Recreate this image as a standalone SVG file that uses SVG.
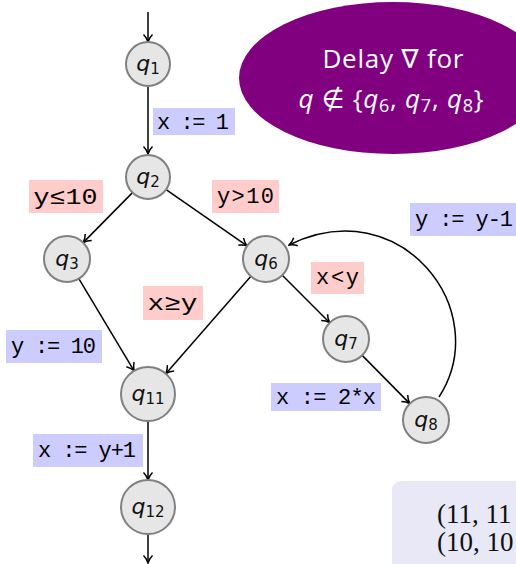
<svg xmlns="http://www.w3.org/2000/svg" width="516" height="564" viewBox="0 0 516 564">
<defs>
<marker id="arr" markerUnits="userSpaceOnUse" viewBox="-9 -6 10 12" markerWidth="10" markerHeight="12" refX="0" refY="0" orient="auto">
<path d="M -7.5 -4.5 C -5 -2, -2 -0.6, 0 0 C -2 0.6, -5 2, -7.5 4.5" fill="none" stroke="#000" stroke-width="1.5"/>
</marker>
</defs>
<style>
.node circle{fill:#e6e6e6;stroke:#808080;stroke-width:2}
.nl{font-family:"DejaVu Sans","Noto Sans",sans-serif;font-size:22px;fill:#111;text-anchor:middle}
.nl .q{font-style:italic}
.nl .s{font-size:15px}
.edge{stroke:#000;stroke-width:1.5;fill:none;marker-end:url(#arr)}
.lb{fill:#ccccff}
.lp{fill:#ffcccc}
.lt{font-family:"Liberation Mono","DejaVu Sans Mono",monospace;font-size:22px;fill:#000;text-anchor:middle}
.et{font-family:"Open Sans","DejaVu Sans",sans-serif;font-size:26px;fill:#fff;text-anchor:middle}
</style>
<rect width="516" height="564" fill="#fff"/>

<g id="note">
<ellipse cx="393" cy="78" rx="154" ry="76" fill="#800080"/>
<text class="et" x="393" y="68" textLength="141" lengthAdjust="spacing">Delay ∇ for</text>
<text class="et" x="391" y="108" textLength="185" lengthAdjust="spacing"><tspan font-style="italic">q</tspan> ∉ {<tspan font-style="italic">q</tspan><tspan font-size="18" dy="4">6</tspan><tspan dy="-4">, </tspan><tspan font-style="italic">q</tspan><tspan font-size="18" dy="4">7</tspan><tspan dy="-4">, </tspan><tspan font-style="italic">q</tspan><tspan font-size="18" dy="4">8</tspan><tspan dy="-4">}</tspan></text>
</g>

<g id="result">
<rect x="392" y="481" width="150" height="100" rx="9" fill="#e8e8f6"/>
<text x="437" y="523" font-family="Liberation Serif,serif" font-size="27" fill="#111">(11, 11</text>
<text x="437" y="551" font-family="Liberation Serif,serif" font-size="27" fill="#111">(10, 10</text>
</g>

<g id="connectors">
<line class="edge" x1="148" y1="12" x2="148" y2="42"/>
<line class="edge" x1="148" y1="87" x2="148" y2="154"/>
<line class="edge" x1="132.5" y1="192.6" x2="83.2" y2="242.6"/>
<line class="edge" x1="166.1" y1="189.6" x2="247.1" y2="245.9"/>
<line class="edge" x1="78.8" y1="278.7" x2="134.1" y2="370.8"/>
<line class="edge" x1="250.9" y1="276.3" x2="165.8" y2="373.7"/>
<line class="edge" x1="282.3" y1="275.3" x2="329.7" y2="322.7"/>
<line class="edge" x1="362.2" y1="355.4" x2="409.8" y2="403.6"/>
<path class="edge" d="M 439 397 C 495 310, 400 190, 289 245"/>
<line class="edge" x1="148" y1="421" x2="148" y2="480"/>
<line class="edge" x1="148" y1="534" x2="148" y2="563"/>
</g>

<g id="labels">
<rect class="lb" x="153" y="108" width="82" height="27"/><text class="lt" x="193" y="129" textLength="72" lengthAdjust="spacing">x := 1</text>
<rect class="lp" x="29" y="180" width="74" height="33"/><text class="lt" x="65.5" y="204" font-size="24" textLength="64" lengthAdjust="spacingAndGlyphs">y≤10</text>
<rect class="lp" x="212" y="180" width="67" height="33"/><text class="lt" x="245.5" y="203" textLength="57" lengthAdjust="spacing">y&gt;10</text>
<rect class="lb" x="410" y="203" width="106" height="33"/><text class="lt" x="464" y="226" textLength="98" lengthAdjust="spacing">y := y-1</text>
<rect class="lp" x="143" y="286" width="60" height="34"/><text class="lt" x="172.5" y="310" font-size="24" textLength="50" lengthAdjust="spacingAndGlyphs">x≥y</text>
<rect class="lp" x="311" y="262" width="53" height="32"/><text class="lt" x="337.5" y="284" textLength="43" lengthAdjust="spacing">x&lt;y</text>
<rect class="lb" x="6" y="330" width="96" height="33"/><text class="lt" x="53.5" y="353" textLength="85" lengthAdjust="spacing">y := 10</text>
<rect class="lb" x="271" y="383" width="110" height="28"/><text class="lt" x="326" y="404" textLength="100" lengthAdjust="spacing">x := 2*x</text>
<rect class="lb" x="33" y="434" width="110" height="33"/><text class="lt" x="87" y="457" textLength="98" lengthAdjust="spacing">x := y+1</text>
</g>

<g id="q1" class="node"><circle cx="148" cy="64" r="22"/><text class="nl" x="148" y="71"><tspan class="q">q</tspan><tspan class="s" dy="3">1</tspan></text></g>
<g id="q2" class="node"><circle cx="148" cy="177" r="22"/><text class="nl" x="148" y="184"><tspan class="q">q</tspan><tspan class="s" dy="3">2</tspan></text></g>
<g id="q3" class="node"><circle cx="67" cy="259" r="23"/><text class="nl" x="67" y="266"><tspan class="q">q</tspan><tspan class="s" dy="3">3</tspan></text></g>
<g id="q6" class="node"><circle cx="266" cy="259" r="23"/><text class="nl" x="266" y="266"><tspan class="q">q</tspan><tspan class="s" dy="3">6</tspan></text></g>
<g id="q7" class="node"><circle cx="346" cy="339" r="23"/><text class="nl" x="346" y="346"><tspan class="q">q</tspan><tspan class="s" dy="3">7</tspan></text></g>
<g id="q8" class="node"><circle cx="426" cy="420" r="23"/><text class="nl" x="426" y="427"><tspan class="q">q</tspan><tspan class="s" dy="3">8</tspan></text></g>
<g id="q11" class="node"><circle cx="148" cy="394" r="27"/><text class="nl" x="148" y="401"><tspan class="q">q</tspan><tspan class="s" dy="3">11</tspan></text></g>
<g id="q12" class="node"><circle cx="148" cy="507" r="27"/><text class="nl" x="148" y="514"><tspan class="q">q</tspan><tspan class="s" dy="3">12</tspan></text></g>
</svg>
